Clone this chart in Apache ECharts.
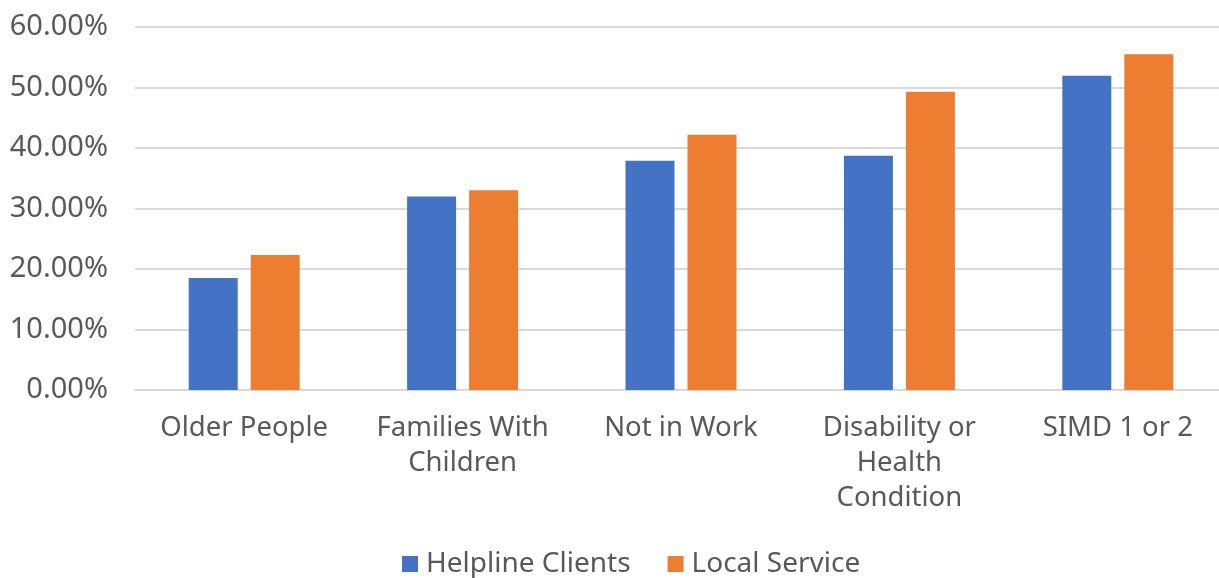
<!DOCTYPE html>
<html>
<head>
<meta charset="utf-8">
<script src="https://cdn.jsdelivr.net/npm/echarts@6/dist/echarts.min.js"></script>
<style>html,body{margin:0;padding:0;background:#fff}#c{width:1219px;height:578px}</style>
</head>
<body>
<div id="c"></div>
<script>
const categories = ["Older People", "Families With\nChildren", "Not in Work", "Disability or\nHealth\nCondition", "SIMD 1 or 2"];
const seriesNames = ["Helpline Clients", "Local Service"];
const helplineClients = [18.5, 32.0, 37.9, 38.7, 51.95];
const localService = [22.3, 33.0, 42.2, 49.3, 55.5];
const yTicks = { min: 0, max: 60, interval: 10 };

const FONT = '"Noto Sans", sans-serif';
const chart = echarts.init(document.getElementById('c'));
chart.setOption({
  animation: false,
  textStyle: { fontFamily: FONT },
  grid: { left: 135, width: 1092, top: 27, bottom: 188, containLabel: false, outerBoundsMode: 'none' },
  legend: {
    bottom: -5, left: 397,
    itemWidth: 16, itemHeight: 16, itemGap: 37,
    icon: 'rect',
    textStyle: { fontSize: 28, color: '#595959', fontFamily: FONT, padding: [0, 0, 0, 3] },
    data: seriesNames
  },
  xAxis: {
    type: 'category',
    data: categories,
    axisLine: { lineStyle: { color: '#d9d9d9', width: 2 } },
    axisTick: { show: false },
    axisLabel: { fontSize: 27.5, color: '#595959', lineHeight: 35, margin: 21, fontFamily: FONT, interval: 0 }
  },
  yAxis: {
    type: 'value',
    min: yTicks.min, max: yTicks.max, interval: yTicks.interval,
    axisLine: { show: false },
    axisTick: { show: false },
    splitLine: { lineStyle: { color: '#d9d9d9', width: 2 } },
    axisLabel: { fontSize: 29, color: '#595959', margin: 27, fontFamily: FONT,
      formatter: v => v.toFixed(2) + '%' }
  },
  series: [
    { name: seriesNames[0], type: 'bar', data: helplineClients, barWidth: 49, barGap: '26.5%',
      itemStyle: { color: '#4472c4' } },
    { name: seriesNames[1], type: 'bar', data: localService, barWidth: 49,
      itemStyle: { color: '#ed7d31' } }
  ]
});
</script>
</body>
</html>
